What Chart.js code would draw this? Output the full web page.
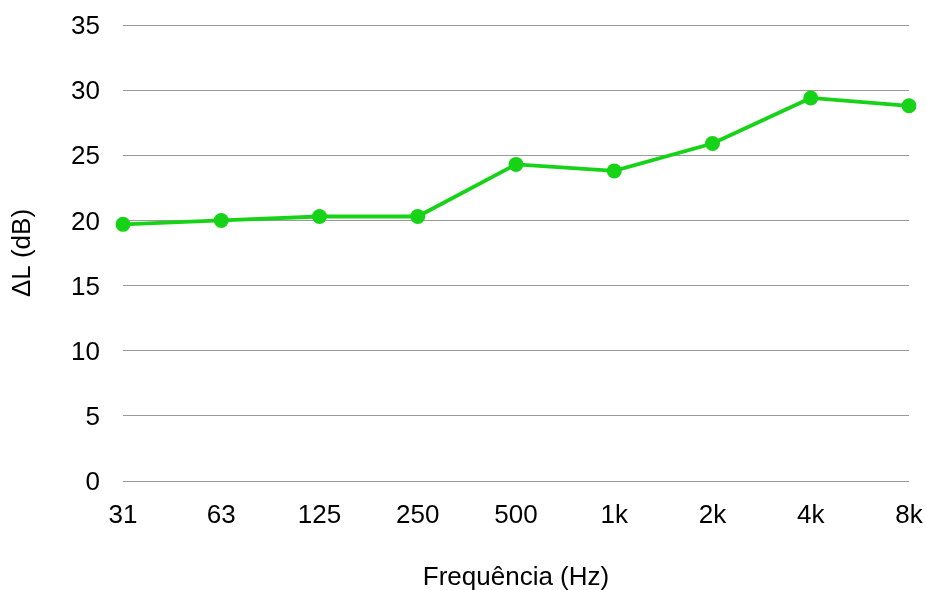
<!DOCTYPE html>
<html>
<head>
<meta charset="utf-8">
<script src="https://cdn.jsdelivr.net/npm/chart.js@4"></script>
<style>
html,body{margin:0;padding:0;background:#fff;}
#wrap{width:926px;height:590px;position:relative;}
</style>
</head>
<body>
<div id="wrap"><canvas id="c" width="926" height="590"></canvas></div>
<script>
const categories = ['31','63','125','250','500','1k','2k','4k','8k'];
const deltaL = [19.7, 20.0, 20.3, 20.3, 24.3, 23.8, 25.9, 29.4, 28.8];
const yTicks = [0,5,10,15,20,25,30,35];
const xTitle = 'Frequência (Hz)';
const yTitle = 'ΔL (dB)';

const FONT = "'Liberation Sans', Arial, sans-serif";
const GREEN = '#17d317';

new Chart(document.getElementById('c'), {
  type: 'line',
  data: {
    labels: categories,
    datasets: [{
      data: deltaL,
      borderColor: GREEN,
      backgroundColor: GREEN,
      borderWidth: 3.8,
      pointRadius: 7.5,
      pointHoverRadius: 7.5,
      pointBackgroundColor: GREEN,
      pointBorderWidth: 0,
      tension: 0,
      fill: false
    }]
  },
  options: {
    responsive: false,
    animation: false,
    devicePixelRatio: 1,
    layout: { padding: { top: 25, right: 17, bottom: 0, left: 0 } },
    plugins: { legend: { display: false }, tooltip: { enabled: false } },
    scales: {
      x: {
        offset: false,
        grid: { display: false, drawTicks: false },
        border: { display: false },
        ticks: { color: '#000', font: { family: FONT, size: 26 }, padding: 19, maxRotation: 0, autoSkip: false },
        title: { display: true, text: xTitle, color: '#000', font: { family: FONT, size: 26 }, padding: { top: 0, bottom: -3 } },
        afterFit: (s) => { s.height = 109; s.paddingLeft = 0; s.paddingRight = 0; }
      },
      y: {
        min: 0, max: 35,
        afterBuildTicks: (s) => { s.ticks = yTicks.map(v => ({ value: v })); },
        grid: { color: '#9a9a9a', lineWidth: 1, drawTicks: false },
        border: { display: false },
        ticks: { color: '#000', font: { family: FONT, size: 26 }, padding: 23, labelOffset: 2 },
        title: { display: true, text: yTitle, color: '#000', font: { family: FONT, size: 26 }, padding: { top: 7, bottom: 0 } },
        afterFit: (s) => { s.width = 123; s.paddingTop = 0; s.paddingBottom = 0; }
      }
    }
  }
});
</script>
</body>
</html>
